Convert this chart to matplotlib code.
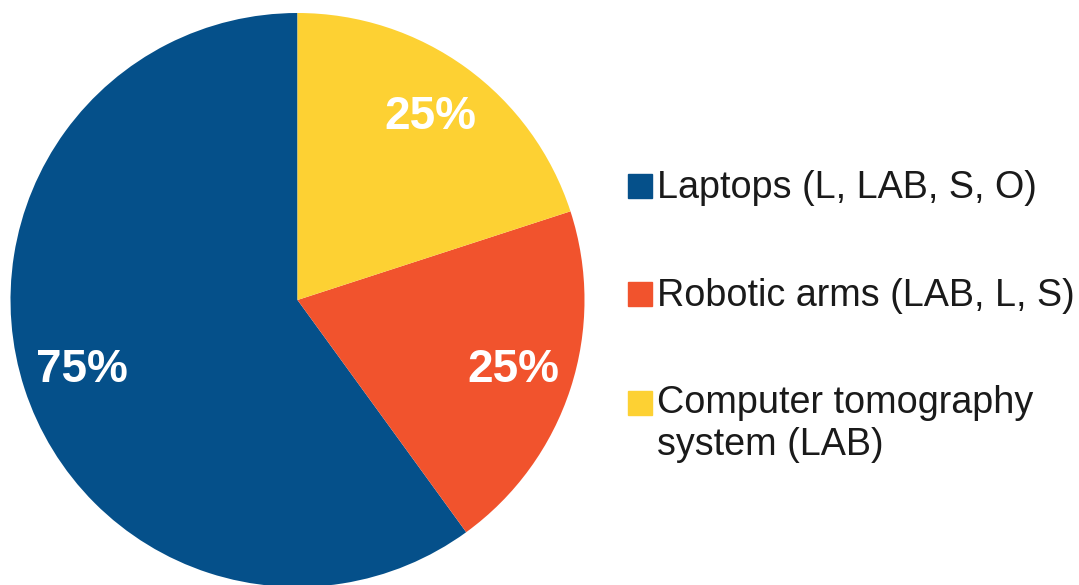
import numpy as np
import matplotlib.pyplot as plt
from matplotlib.patches import Rectangle

# slice data (counter-clockwise from 12 o'clock)
categories = ["Laptops (L, LAB, S, O)", "Robotic arms (LAB, L, S)", "Computer tomography\nsystem (LAB)"]
values = [3, 1, 1]
pct_labels = ["75%", "25%", "25%"]
colors = ["#05508a", "#f1532d", "#fdd133"]

W, H = 1079, 585
fig = plt.figure(figsize=(W / 100, H / 100), dpi=100)

# pie axes: center (297.5, 300) px from top-left, radius 287 px
cx, cy, r = 297.5, 300, 287
ax = fig.add_axes([(cx - r) / W, (H - cy - r) / H, 2 * r / W, 2 * r / H])
wedges, _ = ax.pie(values, colors=colors, startangle=90, counterclock=True,
                   wedgeprops=dict(linewidth=0))
ax.set_xlim(-1, 1)
ax.set_ylim(-1, 1)
ax.set_aspect("equal")
ax.axis("off")
for w in wedges:
    w.set_clip_on(False)

# percentage labels inside the slices
for w, lab in zip(wedges, pct_labels):
    ang = np.deg2rad((w.theta1 + w.theta2) / 2)
    ax.text(0.79 * np.cos(ang), 0.79 * np.sin(ang), lab, color="white",
            fontsize=33, fontweight="bold", family="Liberation Sans",
            ha="center", va="center")

# legend drawn by hand
def px(x, y):
    return x / W, 1 - y / H

baselines = [198, 306, 415]
line_gap = 40
for lab, col, yb in zip(categories, colors, baselines):
    fig.patches.append(Rectangle(px(628, yb), 24 / W, 24 / H, color=col,
                                 transform=fig.transFigure, figure=fig))
    # va='baseline' uses the last line, so push multi-line labels down
    ylast = yb + line_gap * lab.count("\n")
    fig.text(*px(657, ylast), lab, fontsize=27.2, family="Liberation Sans",
             color="#1a1a1a", ha="left", va="baseline", linespacing=1.23)

fig.savefig("out.png", dpi=100)
